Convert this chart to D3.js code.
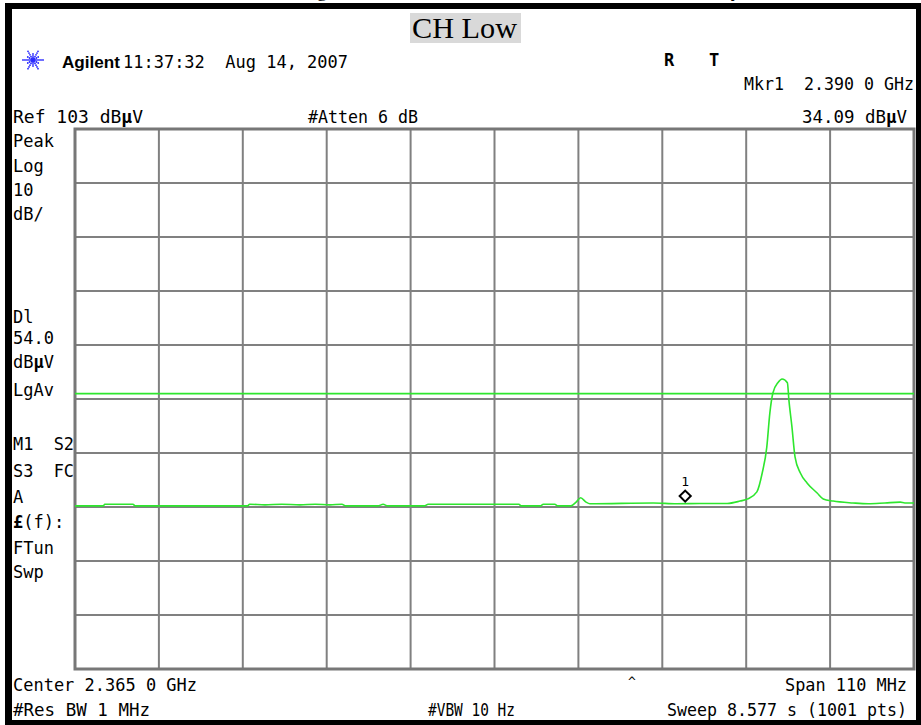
<!DOCTYPE html>
<html>
<head>
<meta charset="utf-8">
<script src="https://cdn.jsdelivr.net/npm/d3@7"></script>
<style>
    body { margin: 0; background: #fff; }
    .mono { font-family: "DejaVu Sans Mono", monospace; font-size: 17px; fill: #000; white-space: pre; }
</style>
</head>
<body>
<script>
// analyzer settings
const refLevel = 103, dbPerDiv = 10, nDivY = 10, nDivX = 10;
const startMHz = 2310, stopMHz = 2420;
const displayLine = 54.0;
const markerFreq = 2390.0, markerLevel = 34.09;

// trace (MHz, dBuV)
const traceFreq = [2310.0, 2313.7, 2313.9, 2317.6, 2317.9, 2332.6, 2332.9, 2334.9, 2337.1, 2339.5,
    2341.5, 2343.4, 2345.0, 2345.5, 2349.7, 2350.4, 2351.0, 2355.8, 2356.3, 2368.2,
    2368.5, 2371.0, 2371.4, 2372.9, 2373.3, 2375.0, 2375.7, 2376.3, 2377.0, 2377.5,
    2385.8, 2388.9, 2391.9, 2395.5, 2397.2, 2398.2, 2399.4, 2400.1, 2400.7, 2401.1,
    2401.5, 2402.2, 2402.7, 2403.4, 2403.6, 2404.0, 2404.4, 2405.1, 2406.0, 2407.3,
    2408.1, 2409.4, 2412.0, 2414.0, 2416.2, 2418.2, 2418.8, 2420.0];
const traceLevel = [33.2, 33.2, 33.5, 33.5, 33.2, 33.2, 33.5, 33.4, 33.5, 33.4,
    33.5, 33.4, 33.5, 33.2, 33.2, 33.5, 33.2, 33.2, 33.5, 33.5,
    33.2, 33.2, 33.5, 33.5, 33.2, 33.2, 33.9, 34.7, 33.9, 33.6,
    33.75, 33.6, 33.65, 33.65, 34.1, 34.5, 35.8, 39.3, 44.1, 50.4,
    54.1, 56.1, 56.7, 56.0, 52.8, 47.8, 42.3, 39.3, 37.4, 35.6,
    34.5, 34.1, 33.75, 33.6, 33.75, 33.9, 33.75, 33.75];

// screen annotations
const leftLabelsTop = ["Peak", "Log", "10", "dB/"];
const leftLabelsMid = ["Dl", "54.0", "dBµV", "LgAv"];
const leftLabelsLow = ["M1  S2", "S3  FC", "A", "£(f):", "FTun", "Swp"];

const width = 921, height = 725;
const plot = { left: 75, right: 914, top: 129, bottom: 669 };

const svg = d3.select('body').append('svg')
    .attr('width', width).attr('height', height);

const x = d3.scaleLinear().domain([startMHz, stopMHz]).range([plot.left, plot.right]);
const y = d3.scaleLinear().domain([refLevel - dbPerDiv * nDivY, refLevel]).range([plot.bottom, plot.top]);

// clipped title line from the page above
const title = svg.append('text')
    .attr('x', 0).attr('y', -3)
    .style('font-family', '"Liberation Serif", serif')
    .style('font-size', '24px')
    .text('Radiated Band Edge Measurement – Restricted Band – Lower Boundary');
{
    const node = title.node();
    const str = node.textContent;
    const gx = node.getStartPositionOfChar(str.indexOf('g')).x;
    const yx = node.getStartPositionOfChar(str.lastIndexOf('y')).x;
    const s = (731 - 317) / (yx - gx);
    title.style('font-size', (24 * s) + 'px');
    const gx2 = node.getStartPositionOfChar(str.indexOf('g')).x;
    title.attr('x', 317 - gx2);
}

// outer black frame
const frame = svg.append('g').attr('fill', '#000');
frame.append('rect').attr('x', 5).attr('y', 3).attr('width', 916).attr('height', 6);
frame.append('rect').attr('x', 5).attr('y', 3).attr('width', 7).attr('height', 722);
frame.append('rect').attr('x', 916).attr('y', 3).attr('width', 5).attr('height', 722);
frame.append('rect').attr('x', 5).attr('y', 720).attr('width', 916).attr('height', 5);

// CH Low tag
svg.append('rect').attr('x', 410).attr('y', 13).attr('width', 111).attr('height', 30).attr('fill', '#d9d9d9');
svg.append('text').attr('x', 412).attr('y', 38)
    .style('font-family', '"Liberation Serif", serif').style('font-size', '30px')
    .attr('textLength', 105).attr('lengthAdjust', 'spacingAndGlyphs')
    .text('CH Low');

// Agilent logo (dotted starburst)
const star = svg.append('g').attr('transform', 'translate(33,60)').attr('fill', '#2a2aff');
d3.range(12).forEach(i => {
    const a = i * Math.PI / 6;
    const len = i % 2 ? 6 : 10;
    d3.range(2, len + 1, 2).forEach(r => {
        star.append('circle').attr('cx', r * Math.cos(a)).attr('cy', r * Math.sin(a)).attr('r', 0.9);
    });
});
star.append('circle').attr('r', 1.6);

function label(txt, xx, yy, opts = {}) {
    const t = svg.append('text').attr('class', 'mono').attr('x', xx).attr('y', yy)
        .attr('xml:space', 'preserve');
    if (opts.anchor) t.attr('text-anchor', opts.anchor);
    if (opts.len) t.attr('textLength', opts.len).attr('lengthAdjust', 'spacingAndGlyphs');
    if (opts.bold) t.style('font-weight', 'bold');
    // bold the micro / pound signs like the analyzer font
    const parts = txt.split(/([µ£])/);
    parts.forEach(p => {
        if (!p) return;
        const ts = t.append('tspan').text(p);
        if (p === 'µ' || p === '£') ts.style('font-weight', 'bold');
    });
    return t;
}

svg.append('text').attr('x', 62).attr('y', 68)
    .style('font-family', '"Liberation Sans", Arial, sans-serif').style('font-weight', 'bold')
    .style('font-size', '17px').attr('textLength', 58).attr('lengthAdjust', 'spacingAndGlyphs')
    .text('Agilent');
label('11:37:32  Aug 14, 2007', 123, 68, { len: 225 });
label('R', 664, 66, { bold: true });
label('T', 709, 66, { bold: true });
label('Mkr1  2.390 0 GHz', 914, 90, { anchor: 'end', len: 170 });
label('Ref 103 dBµV', 13, 123, { len: 130 });
label('#Atten 6 dB', 308, 123, { len: 110 });
label('34.09 dBµV', 907, 123, { anchor: 'end', len: 105 });

const leftY1 = [147, 172, 196, 220];
const leftY2 = [323, 344, 368, 396];
const leftY3 = [450, 477, 503, 528, 554, 578];
leftLabelsTop.forEach((t, i) => label(t, 13, leftY1[i]));
leftLabelsMid.forEach((t, i) => label(t, 13, leftY2[i]));
leftLabelsLow.forEach((t, i) => label(t, 13, leftY3[i], t.length > 5 ? { len: 61 } : {}));

label('Center 2.365 0 GHz', 13, 691, { len: 184 });
label('#Res BW 1 MHz', 13, 716, { len: 137 });
label('#VBW 10 Hz', 428, 716, { len: 87 });
label('Span 110 MHz', 907, 691, { anchor: 'end', len: 122 });
label('Sweep 8.577 s (1001 pts)', 907, 716, { anchor: 'end', len: 240 });
svg.append('text').attr('class', 'mono').attr('x', 632).attr('y', 686)
    .attr('text-anchor', 'middle').style('font-size', '13px').text('^');

// graticule
const xGrid = d3.range(nDivX + 1).map(i => startMHz + i * (stopMHz - startMHz) / nDivX);
const yGrid = d3.range(nDivY + 1).map(i => refLevel - i * dbPerDiv);
const grid = svg.append('g').attr('stroke', '#808080').attr('stroke-width', 2);
grid.selectAll('line.v').data(xGrid).join('line').attr('class', 'v')
    .attr('x1', d => x(d)).attr('x2', d => x(d)).attr('y1', plot.top).attr('y2', plot.bottom);
grid.selectAll('line.h').data(yGrid).join('line').attr('class', 'h')
    .attr('y1', d => y(d)).attr('y2', d => y(d)).attr('x1', plot.left).attr('x2', plot.right);
svg.append('rect').attr('x', plot.left).attr('y', plot.top)
    .attr('width', plot.right - plot.left).attr('height', plot.bottom - plot.top)
    .attr('fill', 'none').attr('stroke', '#777').attr('stroke-width', 3);

// display line
svg.append('line').attr('x1', plot.left).attr('x2', plot.right)
    .attr('y1', y(displayLine)).attr('y2', y(displayLine))
    .attr('stroke', '#2ee62e').attr('stroke-width', 1.6);

// trace
const pts = traceFreq.map((f, i) => [f, traceLevel[i]]);
svg.append('path').datum(pts)
    .attr('fill', 'none').attr('stroke', '#2ee62e').attr('stroke-width', 1.6)
    .attr('d', d3.line().curve(d3.curveMonotoneX).x(d => x(d[0])).y(d => y(d[1])));

// marker 1
const mx = x(markerFreq), my = y(markerLevel);
svg.append('path').attr('transform', `translate(${mx},${my - 5}) rotate(45)`)
    .attr('d', d3.symbol(d3.symbolSquare, 62)())
    .attr('fill', 'none').attr('stroke', '#000').attr('stroke-width', 2);
svg.append('text').attr('class', 'mono').attr('x', mx).attr('y', my - 15)
    .attr('text-anchor', 'middle').style('font-size', '13px').text('1');
</script>
</body>
</html>
